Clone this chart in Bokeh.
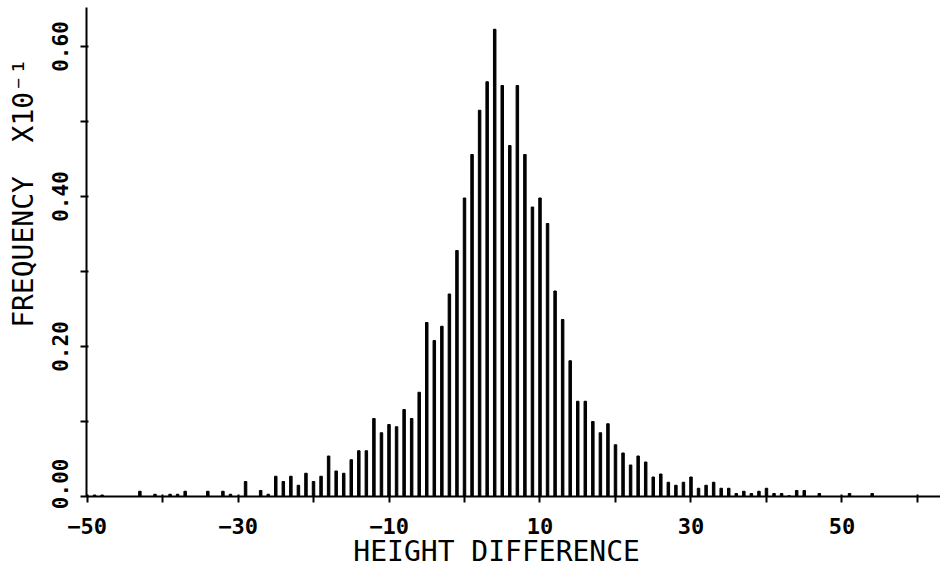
from bokeh.plotting import figure
from bokeh.models import Range1d, FixedTicker, PrintfTickFormatter
from bokeh.embed import file_html
from bokeh.resources import INLINE

# Height difference bins and frequency (x10^-1)
diffs = list(range(-50, 63))
freq = [
    0.000, 0.002, 0.002, 0.000, 0.000, 0.000, 0.000, 0.007, 0.000, 0.003,   # -50..-41
    0.000, 0.003, 0.003, 0.007, 0.000, 0.000, 0.007, 0.000, 0.007, 0.003,   # -40..-31
    0.000, 0.020, 0.000, 0.008, 0.003, 0.027, 0.020, 0.027, 0.015, 0.031,   # -30..-21
    0.020, 0.027, 0.054, 0.034, 0.031, 0.049, 0.061, 0.061, 0.104, 0.085,   # -20..-11
    0.096, 0.093, 0.116, 0.104, 0.139, 0.232, 0.208, 0.227, 0.270, 0.328,   # -10..-1
    0.398, 0.456, 0.515, 0.553, 0.623, 0.548, 0.468, 0.548, 0.456, 0.386,   # 0..9
    0.398, 0.364, 0.274, 0.236, 0.181, 0.127, 0.127, 0.100, 0.085, 0.097,   # 10..19
    0.069, 0.058, 0.042, 0.054, 0.046, 0.026, 0.030, 0.019, 0.015, 0.019,   # 20..29
    0.026, 0.011, 0.015, 0.019, 0.011, 0.011, 0.004, 0.007, 0.004, 0.007,   # 30..39
    0.011, 0.004, 0.004, 0.001, 0.008, 0.008, 0.000, 0.004, 0.000, 0.000,   # 40..49
    0.000, 0.004, 0.000, 0.000, 0.004, 0.000, 0.000, 0.000, 0.000, 0.000,   # 50..59
    0.000, 0.000, 0.000,                                                     # 60..62
]
x_labels = [-50, -30, -10, 10, 30, 50]
x_minor = [-40, -20, 0, 20, 40, 60]
y_labels = [0.0, 0.2, 0.4, 0.6]
y_minor = [0.1, 0.3, 0.5]
x_title = "HEIGHT DIFFERENCE"
y_title_main = "FREQUENCY"
y_title_unit = "X10\u207b\u00b9"

FONT = "DejaVu Sans Mono"
NB = "\u00a0"

p = figure(width=940, height=574, output_backend="svg", toolbar_location=None,
           x_range=Range1d(-50.07, 63.05), y_range=Range1d(0, 0.652),
           min_border_left=86, min_border_right=0, min_border_top=7,
           min_border_bottom=78)

p.vbar(x=diffs, top=freq, width=0.33, bottom=0, color="black")

p.outline_line_color = None
p.xgrid.visible = False
p.ygrid.visible = False
p.background_fill_color = "white"

for ax in (p.xaxis[0], p.yaxis[0]):
    ax.axis_line_width = 2
    ax.axis_line_color = "black"
    ax.major_tick_line_width = 2
    ax.minor_tick_line_width = 2
    ax.major_tick_line_color = "black"
    ax.minor_tick_line_color = "black"
    ax.major_tick_out = 6
    ax.major_tick_in = 2
    ax.minor_tick_out = 6
    ax.minor_tick_in = 2
    ax.major_label_text_font = FONT
    ax.major_label_text_font_style = "bold"
    ax.major_label_text_color = "black"
    ax.axis_label_text_font = FONT
    ax.axis_label_text_font_style = "normal"
    ax.axis_label_text_color = "black"

xa = p.xaxis[0]
xa.ticker = FixedTicker(ticks=x_labels, minor_ticks=x_minor)
xa.major_label_text_font_size = "22px"
xa.major_label_standoff = 15
xa.axis_label = x_title + NB * 2
xa.axis_label_text_font_size = "28px"
xa.axis_label_standoff = -2

ya = p.yaxis[0]
ya.ticker = FixedTicker(ticks=y_labels, minor_ticks=y_minor)
ya.formatter = PrintfTickFormatter(format="%.2f")
ya.major_label_overrides = {0: NB * 2 + "0.00"}
ya.major_label_orientation = "vertical"
ya.major_label_text_font_size = "21px"
ya.major_label_standoff = 8
ya.axis_label = NB * 7 + y_title_main + NB * 2 + y_title_unit
ya.axis_label_text_font_size = "28px"
ya.axis_label_standoff = 6

open("out.html", "w").write(file_html(p, INLINE))
